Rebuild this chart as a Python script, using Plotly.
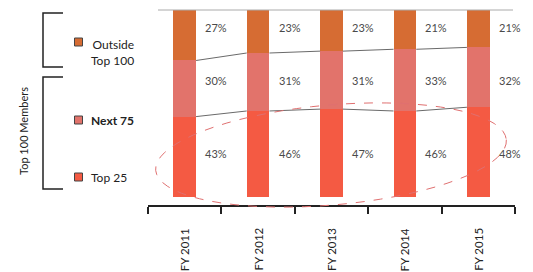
import math
import plotly.graph_objects as go

categories = ["FY 2011", "FY 2012", "FY 2013", "FY 2014", "FY 2015"]
top25 = [43, 46, 47, 46, 48]
next75 = [30, 31, 31, 33, 32]
outside = [27, 23, 23, 21, 21]
series_names = ["Top 25", "Next 75", "Outside Top 100"]
colors = ["#f45a43", "#e2736b", "#d66c33"]

W, H = 533, 272
L, R, T, B = 148, 515, 10, 205
def px(x): return (x - L) / (R - L)
def py(y): return (B - y) / (B - T)

xs = list(range(len(categories)))
bw = 0.31
fig = go.Figure()
for name, vals, c in zip(series_names, [top25, next75, outside], colors):
    fig.add_trace(go.Bar(x=xs, y=vals, name=name, marker=dict(color=c, line=dict(width=0)),
                         width=bw, showlegend=False))

# connector lines between bars
b1 = top25
b2 = [a + b for a, b in zip(top25, next75)]
for bnd in (b1, b2):
    for i in range(len(xs) - 1):
        fig.add_trace(go.Scatter(x=[xs[i] + bw / 2, xs[i + 1] - bw / 2], y=[bnd[i], bnd[i + 1]],
                                 mode="lines", line=dict(color="#6a6a6a", width=1),
                                 showlegend=False, hoverinfo="skip"))

ann = []
label_y = {"out": 90.5, "next": 62.5, "top": 23.5}
for i in xs:
    for key, vals in (("out", outside), ("next", next75), ("top", top25)):
        ann.append(dict(x=xs[i] + 0.43, y=label_y[key], xref="x", yref="y", text=f"{vals[i]}%",
                        showarrow=False, font=dict(size=11, color="#4a4a4a", family="Lato")))
    ann.append(dict(x=xs[i], y=py(226), xref="x", yref="paper", text=categories[i], textangle=-90,
                    showarrow=False, xanchor="center", yanchor="top",
                    font=dict(size=11.5, color="#222", family="Lato")))

# legend on left
leg = [("Outside<br>Top 100", 42, 52, colors[2], False),
       ("Next 75", 120, 120, colors[1], True),
       ("Top 25", 177, 177, colors[0], False)]
for text, sy, ty, c, bold in leg:
    ann.append(dict(x=px(89), y=py(ty), xref="paper", yref="paper",
                    text=(f"<b>{text}</b>" if bold else text), showarrow=False,
                    xanchor="left", yanchor="middle", align="right",
                    font=dict(size=12, color="#222", family="Lato")))
ann.append(dict(x=px(23), y=py(131), xref="paper", yref="paper", text="Top 100 Members",
                textangle=-90, showarrow=False, xanchor="center", yanchor="middle",
                font=dict(size=11, color="#222", family="Lato")))

shapes = []
for text, sy, ty, c, bold in leg:
    shapes.append(dict(type="rect", xref="paper", yref="paper", x0=px(74.5), x1=px(82.5),
                       y0=py(sy + 4), y1=py(sy - 4), fillcolor=c,
                       line=dict(color="#444", width=1)))
# brackets
for y0, y1 in ((13, 67), (77, 189)):
    shapes.append(dict(type="path", xref="paper", yref="paper",
                       path=f"M {px(63)} {py(y0)} L {px(43)} {py(y0)} L {px(43)} {py(y1)} L {px(63)} {py(y1)}",
                       line=dict(color="#222", width=1.5)))
# top border line
shapes.append(dict(type="line", xref="paper", yref="paper", x0=px(158), x1=px(513), y0=1, y1=1,
                   line=dict(color="#aaaaaa", width=1)))
# dashed tilted ellipse (decoration)
cx, cy, ea, eb, rot = 331, 155, 176, 50, math.radians(-5)
pts = []
for k in range(73):
    t = 2 * math.pi * k / 72
    ex, ey = ea * math.cos(t), eb * math.sin(t)
    X = cx + ex * math.cos(rot) - ey * math.sin(rot)
    Y = cy + ex * math.sin(rot) + ey * math.cos(rot)
    pts.append(f"{px(X):.4f} {py(Y):.4f}")
shapes.append(dict(type="path", xref="paper", yref="paper", path="M " + " L ".join(pts) + " Z",
                   line=dict(color="#e07070", width=1, dash="dash")))

fig.update_layout(
    barmode="stack", width=W, height=H,
    margin=dict(l=L, r=W - R, t=T, b=H - B),
    paper_bgcolor="white", plot_bgcolor="white",
    bargap=0,
    xaxis=dict(range=[-0.5, 4.5], tickvals=[-0.5, 0.5, 1.5, 2.5, 3.5, 4.5], ticktext=[""] * 6,
               ticks="outside", ticklen=7, tickcolor="#222", tickwidth=1.5,
               showline=True, linecolor="#222", linewidth=1.5, showgrid=False, zeroline=False),
    yaxis=dict(range=[-4.28, 100], visible=False, showgrid=False),
    annotations=ann, shapes=shapes,
)
fig.write_html("out.html", config={"displayModeBar": False},
               post_script="document.body.style.margin='0';document.body.style.overflow='hidden';")
